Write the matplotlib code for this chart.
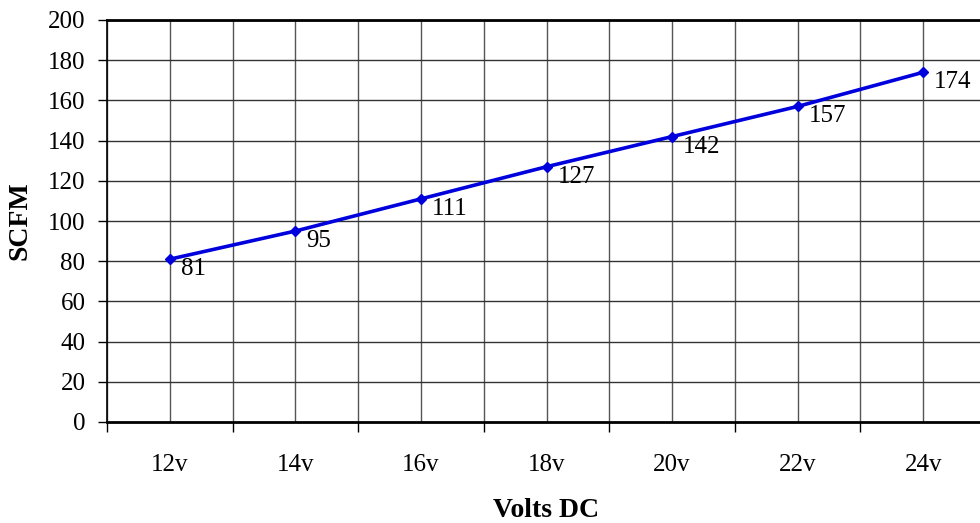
import matplotlib
matplotlib.use("Agg")
import matplotlib.pyplot as plt
import numpy as np

volts = ["12v", "14v", "16v", "18v", "20v", "22v", "24v"]
scfm = [81, 95, 111, 127, 142, 157, 174]

plt.rcParams["font.family"] = ["Liberation Serif", "DejaVu Serif"]

fig = plt.figure(figsize=(9.8, 5.23), dpi=100)
ax = fig.add_axes([107 / 980, 1 - 422 / 523, (986 - 107) / 980, (422 - 20) / 523])

x = np.arange(len(volts))
ax.plot(x, scfm, color="#0000dd", linewidth=2.6, marker="D", markersize=5, zorder=5, clip_on=False)

for xi, v in zip(x, scfm):
    ax.annotate(str(v), (xi, v), xytext=(11, -10), textcoords="offset pixels",
                ha="left", va="center", fontsize=18, color="black", zorder=6)

ax.set_xlim(-0.5, len(volts) - 0.5)
ax.set_ylim(0, 200)
ax.set_yticks(range(0, 201, 20))
ax.tick_params(axis="y", labelsize=18, length=6.5, width=1, direction="out", pad=9)

# category labels at centres, tick marks at boundaries
ax.set_xticks(x)
ax.set_xticklabels(volts)
ax.tick_params(axis="x", which="major", length=0, labelsize=18, pad=23)
ax.set_xticks(np.arange(-0.5, len(volts), 1), minor=True)
ax.tick_params(axis="x", which="minor", length=7, width=1, direction="out")

for gx in np.arange(-0.5, len(volts), 0.5):
    ax.axvline(gx, color="#555555", linewidth=1, zorder=1)
for gy in range(20, 201, 20):
    ax.axhline(gy, color="#333333", linewidth=1, zorder=1)

ax.spines["right"].set_visible(False)
ax.spines["top"].set_linewidth(2)
ax.spines["bottom"].set_linewidth(2)
ax.spines["left"].set_linewidth(1.2)

ax.set_ylabel("SCFM", fontsize=20, fontweight="bold", labelpad=11)
ax.set_xlabel("Volts DC", fontsize=20, fontweight="bold", labelpad=16)

fig.savefig("out.png", dpi=100)
